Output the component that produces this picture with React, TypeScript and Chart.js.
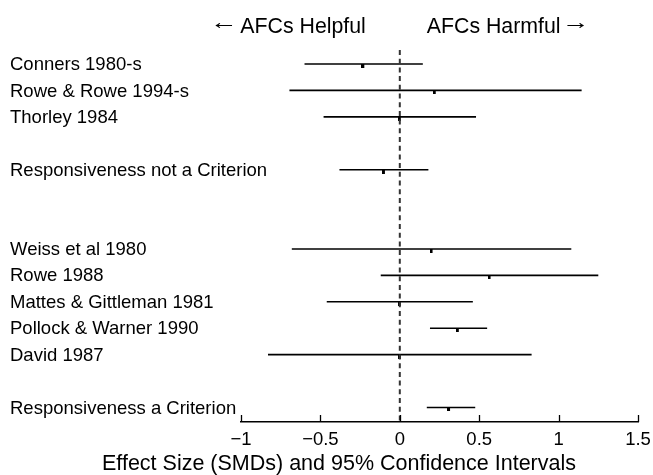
import React, { useEffect, useRef } from "react";
import { Chart, registerables } from "chart.js";

Chart.register(...registerables);

const studies = [
  "Conners 1980-s",
  "Rowe & Rowe 1994-s",
  "Thorley 1984",
  "",
  "Responsiveness not a Criterion",
  "",
  "",
  "Weiss et al 1980",
  "Rowe 1988",
  "Mattes & Gittleman 1981",
  "Pollock & Warner 1990",
  "David 1987",
  "",
  "Responsiveness a Criterion",
];
const estimates = [-0.23, 0.22, 0.0, null, -0.1, null, null, 0.2, 0.565, 0.0, 0.365, 0.0, null, 0.31];
const lowerCI = [-0.6, -0.695, -0.48, null, -0.38, null, null, -0.68, -0.12, -0.46, 0.19, -0.83, null, 0.17];
const upperCI = [0.145, 1.145, 0.48, null, 0.18, null, null, 1.08, 1.25, 0.46, 0.55, 0.83, null, 0.475];
const xTicks = [-1, -0.5, 0, 0.5, 1, 1.5];
const xTickLabels = ["\u22121", "\u22120.5", "0", "0.5", "1", "1.5"];
const leftHeader = "AFCs Helpful";
const rightHeader = "AFCs Harmful";
const leftArrow = "\u2190";
const rightArrow = "\u2192";
const axisTitle = "Effect Size (SMDs) and 95% Confidence Intervals";

const FONT = '"Liberation Sans", Arial, Helvetica, sans-serif';
const Y_MIN = -0.53;
const Y_MAX = 13.55;

function makeMarker(): HTMLCanvasElement {
  const c = document.createElement("canvas");
  c.width = 4;
  c.height = 8;
  const g = c.getContext("2d")!;
  g.fillStyle = "#000";
  g.fillRect(0, 4, 3, 4);
  return c;
}

const decor = {
  id: "decor",
  afterDraw(chart: any) {
    const ctx = chart.ctx;
    const xs = chart.scales.x;
    const ys = chart.scales.y;
    const ca = chart.chartArea;
    ctx.save();
    ctx.strokeStyle = "#000";
    ctx.lineWidth = 1.3;
    xTicks.forEach((v) => {
      const px = Math.round(xs.getPixelForValue(v)) + 0.5;
      ctx.beginPath();
      ctx.moveTo(px, ca.bottom);
      ctx.lineTo(px, ca.bottom - 7);
      ctx.stroke();
    });
    ctx.fillStyle = "#000";
    ctx.font = `18.5px ${FONT}`;
    ctx.textAlign = "left";
    ctx.textBaseline = "middle";
    studies.forEach((s, i) => {
      if (!s) return;
      ctx.fillText(s, 10, ys.getPixelForValue(i) + 1);
    });
    ctx.font = `21.3px ${FONT}`;
    const x0 = xs.getPixelForValue(0);
    ctx.textAlign = "right";
    ctx.fillText(leftHeader, x0 - 34, 27);
    ctx.textAlign = "left";
    ctx.fillText(rightHeader, x0 + 27, 27);
    ctx.save();
    ctx.translate(x0 - 162, 23);
    ctx.scale(1.3, 1);
    ctx.textAlign = "right";
    ctx.fillText(leftArrow, 0, 0);
    ctx.restore();
    ctx.save();
    ctx.translate(x0 + 162, 23);
    ctx.scale(1.3, 1);
    ctx.textAlign = "left";
    ctx.fillText(rightArrow, 0, 0);
    ctx.restore();
    ctx.font = `21.5px ${FONT}`;
    ctx.textAlign = "center";
    ctx.fillText(axisTitle, 339, 464);
    ctx.restore();
  },
};

export default function App() {
  const ref = useRef<HTMLCanvasElement>(null);
  useEffect(() => {
    if (!ref.current) return;
    const marker = makeMarker();
    const datasets: any[] = [];
    datasets.push({
      type: "line",
      data: [
        { x: 0, y: Y_MIN },
        { x: 0, y: Y_MAX },
      ],
      borderColor: "#333",
      borderWidth: 2,
      borderDash: [5, 3.7],
      pointRadius: 0,
    });
    studies.forEach((_, i) => {
      const lo = lowerCI[i];
      const hi = upperCI[i];
      if (lo === null || hi === null) return;
      datasets.push({
        type: "line",
        data: [
          { x: lo, y: i },
          { x: hi, y: i },
        ],
        borderColor: "#000",
        borderWidth: 1.6,
        pointRadius: 0,
      });
    });
    datasets.push({
      type: "scatter",
      data: estimates
        .map((e, i) => (e === null ? null : { x: e, y: i }))
        .filter((d) => d !== null),
      pointStyle: marker,
      pointRadius: 3,
      backgroundColor: "#000",
      borderColor: "#000",
    });

    const chart = new Chart(ref.current, {
      type: "scatter",
      data: { datasets },
      options: {
        animation: false,
        responsive: false,
        layout: { padding: { left: 10, right: 15, top: 50, bottom: 0 } },
        plugins: {
          legend: { display: false },
          tooltip: { enabled: false },
          title: { display: false },
        },
        scales: {
          x: {
            type: "linear",
            position: "bottom",
            min: -1,
            max: 1.5,
            afterBuildTicks: (s: any) => {
              s.ticks = xTicks.map((v) => ({ value: v }));
            },
            afterFit: (s: any) => {
              s.height = 53;
              s.paddingLeft = 0;
              s.paddingRight = 0;
            },
            grid: { display: true, drawOnChartArea: false, drawTicks: false },
            border: { display: true, color: "#000", width: 1.4 },
            ticks: {
              padding: 7,
              color: "#000",
              font: { family: FONT, size: 18.5 },
              maxRotation: 0,
              autoSkip: false,
              callback: (v: any) => xTickLabels[xTicks.indexOf(Number(v))],
            },
          },
          y: {
            type: "linear",
            position: "left",
            reverse: true,
            min: Y_MIN,
            max: Y_MAX,
            afterBuildTicks: (s: any) => {
              s.ticks = studies.map((_, i) => ({ value: i }));
            },
            afterFit: (s: any) => {
              s.width = 231;
              s.paddingTop = 0;
              s.paddingBottom = 0;
            },
            grid: { display: false },
            border: { display: false },
            ticks: { display: false },
          },
        },
      },
      plugins: [decor],
    });
    return () => chart.destroy();
  }, []);

  return (
    <div style={{ position: "absolute", left: 0, top: 0, width: 653, height: 475, background: "#fff" }}>
      <canvas ref={ref} width={653} height={475} />
    </div>
  );
}
